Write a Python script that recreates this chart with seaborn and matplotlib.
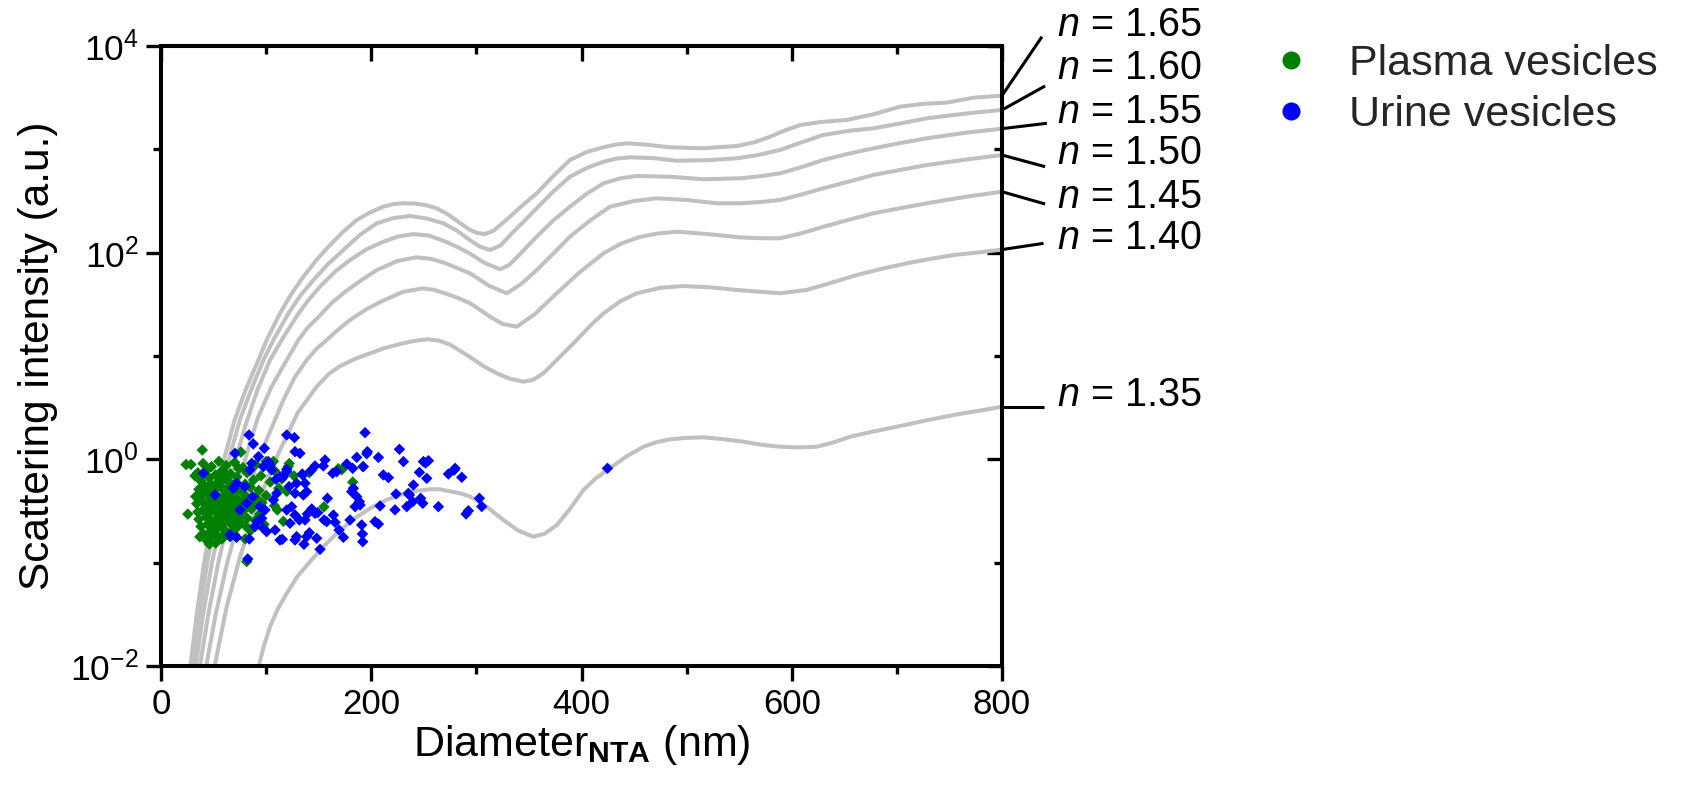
import numpy as np
import pandas as pd
import matplotlib
matplotlib.use("Agg")
import matplotlib.pyplot as plt
from matplotlib import font_manager as fm
import seaborn as sns
from matplotlib.lines import Line2D
from matplotlib.ticker import FixedLocator, NullFormatter

# ---------------- data ----------------
# Mie scattering curves: diameter (nm) and log10 scattering intensity (a.u.)
d_165 = [28, 34, 41, 50, 60, 70, 80, 92.6, 100.5, 113.2, 124, 135.4, 148, 160.8, 173, 186.2, 199, 211.5, 221,
         230.6, 242, 252, 262.3, 273, 284, 294, 301, 308, 316, 330, 343, 357.4, 373, 389, 405, 420.9, 432, 443,
         462, 484, 515, 547.7, 565, 579.4, 594, 608, 628, 652.4, 678, 703, 725, 747.6, 773, 800]
logI_165 = [-2, -1.5, -1.0, -0.48, 0.0, 0.38, 0.66, 0.961, 1.155, 1.413, 1.60, 1.767, 1.93, 2.074, 2.20, 2.316,
            2.39, 2.445, 2.47, 2.478, 2.475, 2.46, 2.429, 2.37, 2.29, 2.22, 2.19, 2.18, 2.21, 2.33, 2.45, 2.574,
            2.74, 2.897, 2.975, 3.02, 3.045, 3.058, 3.045, 3.02, 3.01, 3.032, 3.07, 3.122, 3.185, 3.235, 3.265,
            3.284, 3.34, 3.413, 3.44, 3.452, 3.50, 3.52]

d_160 = [30, 36.5, 44, 53.5, 64.5, 75, 86, 97.5, 106.9, 121.2, 133, 145, 159, 173.5, 189, 205.2, 221, 237, 253,
         268.6, 282, 294, 303, 313, 323, 335, 346, 357.4, 373, 389, 405, 420.9, 433, 446, 468, 490.7, 520, 547.7,
         568, 589, 610, 630, 655, 677.7, 703, 728.5, 752, 773, 800]
logI_160 = [-2, -1.5, -1.0, -0.5, 0.0, 0.38, 0.68, 0.961, 1.155, 1.413, 1.59, 1.735, 1.89, 2.026, 2.17, 2.284,
            2.335, 2.355, 2.33, 2.284, 2.21, 2.12, 2.06, 2.026, 2.07, 2.2, 2.31, 2.43, 2.59, 2.735, 2.82, 2.88,
            2.91, 2.923, 2.915, 2.89, 2.895, 2.913, 2.945, 2.994, 3.07, 3.139, 3.18, 3.203, 3.25, 3.30, 3.33,
            3.355, 3.381]

d_155 = [33, 40, 48.5, 59, 71, 81, 92, 103.7, 114.8, 130, 141, 152, 166, 180, 195, 210, 225, 240, 255, 270, 283,
         294, 308, 322.5, 331, 340, 357.4, 373, 389, 405, 421, 437, 452.6, 485, 515.7, 551, 570, 589, 610, 630,
         655, 677.7, 703, 728.5, 765, 800]
logI_155 = [-2, -1.5, -1.0, -0.5, 0.0, 0.35, 0.68, 0.961, 1.155, 1.40, 1.55, 1.68, 1.82, 1.93, 2.03, 2.10, 2.155,
            2.18, 2.165, 2.11, 2.05, 1.99, 1.90, 1.839, 1.88, 1.97, 2.155, 2.31, 2.445, 2.57, 2.671, 2.72, 2.742,
            2.735, 2.71, 2.72, 2.74, 2.768, 2.83, 2.897, 2.96, 3.01, 3.06, 3.107, 3.16, 3.20]

d_150 = [37, 45, 54.5, 66, 80, 92, 105, 119.6, 130.7, 140, 150, 162, 175, 190, 205, 225, 243, 257, 270, 282, 294,
         312, 329, 343, 357.4, 373, 389, 408, 427, 450, 471.6, 500, 528.7, 551, 570, 589, 610, 630, 655, 677.7,
         703, 728.5, 765, 800]
logI_150 = [-2, -1.5, -1.0, -0.5, 0.0, 0.4, 0.7, 0.961, 1.155, 1.28, 1.38, 1.51, 1.62, 1.73, 1.83, 1.92, 1.955,
            1.94, 1.9, 1.85, 1.80, 1.68, 1.607, 1.70, 1.832, 1.99, 2.155, 2.31, 2.445, 2.50, 2.526, 2.51, 2.478,
            2.478, 2.49, 2.51, 2.565, 2.623, 2.69, 2.752, 2.80, 2.848, 2.90, 2.945]

d_145 = [43, 52, 63, 76.5, 92.6, 105, 116.4, 127, 138.6, 148, 157.6, 168, 180, 195, 210, 230, 249, 260, 272, 283,
         294, 303, 313, 325, 338.4, 355, 373, 397, 421, 438, 455, 472, 490.7, 520, 551, 570, 589, 610, 630, 655,
         677.7, 703, 728.5, 765, 800]
logI_145 = [-2, -1.5, -1.0, -0.5, 0.0, 0.3, 0.574, 0.79, 0.961, 1.07, 1.155, 1.25, 1.35, 1.45, 1.53, 1.62, 1.655,
            1.64, 1.6, 1.56, 1.51, 1.45, 1.38, 1.31, 1.284, 1.40, 1.574, 1.80, 1.994, 2.09, 2.15, 2.185, 2.203,
            2.18, 2.148, 2.14, 2.139, 2.19, 2.251, 2.32, 2.381, 2.43, 2.478, 2.54, 2.59]

d_140 = [51, 62.5, 75.2, 91, 102, 113.2, 130, 148, 160, 170, 184, 198.9, 212, 225, 240, 253, 264, 275, 294, 307,
         320, 332, 344.7, 354, 363.7, 379.6, 395.5, 408, 421, 437, 452.6, 475, 497, 522, 547.7, 589, 614, 638,
         662, 686, 709.5, 732, 753.9, 780, 800]
logI_140 = [-2, -1.426, -0.942, -0.458, -0.17, 0.09, 0.45, 0.703, 0.83, 0.9, 0.97, 1.026, 1.075, 1.11, 1.145,
            1.161, 1.15, 1.11, 0.99, 0.90, 0.83, 0.78, 0.751, 0.77, 0.832, 0.993, 1.155, 1.29, 1.413, 1.53, 1.607,
            1.66, 1.677, 1.665, 1.639, 1.607, 1.639, 1.71, 1.784, 1.845, 1.897, 1.94, 1.977, 2.005, 2.03]

d_135 = [93, 98, 103.7, 111, 119.6, 130, 141.8, 154, 167.2, 183, 198.9, 215, 230.6, 243, 256, 265, 275, 285, 294,
         310, 325.7, 340, 354, 365, 376.5, 389, 401.8, 414, 427, 443, 459, 471, 484, 500, 516, 535, 554, 572,
         589, 606, 624, 640, 655.6, 678, 700, 727, 754, 778, 800]
logI_135 = [-2, -1.8, -1.62, -1.45, -1.297, -1.13, -0.99, -0.85, -0.716, -0.58, -0.474, -0.39, -0.336, -0.305,
            -0.29, -0.29, -0.31, -0.33, -0.36, -0.46, -0.587, -0.69, -0.749, -0.72, -0.636, -0.48, -0.297, -0.18,
            -0.087, 0.03, 0.122, 0.165, 0.193, 0.208, 0.213, 0.195, 0.171, 0.14, 0.122, 0.115, 0.122, 0.165,
            0.219, 0.27, 0.316, 0.375, 0.429, 0.47, 0.509]

n_labels = ["1.65", "1.60", "1.55", "1.50", "1.45", "1.40", "1.35"]

# Plasma vesicles (green): diameter (nm), log10 intensity
plasma_d = [40, 48, 55, 62, 70, 78, 90, 100,
            35, 44, 52, 58, 66, 74, 82, 95, 108,
            38, 46, 53, 60, 65, 72, 80, 88, 104, 115,
            36, 42, 50, 57, 63, 69, 76, 85, 93, 112,
            33, 40, 47, 52, 58, 62, 67, 73, 79, 90, 100,
            34, 39, 45, 50, 55, 60, 64, 70, 77, 84, 96, 108,
            35, 41, 46, 51, 56, 61, 66, 71, 78, 86, 94,
            36, 43, 48, 53, 58, 63, 68, 75, 82, 90,
            38, 44, 50, 55, 60, 66, 72, 80, 98,
            40, 47, 54, 62, 70, 85,
            44, 52, 58,
            45, 49, 53, 57, 61, 65, 68, 72, 74, 43, 47, 59, 64, 69, 76, 81, 51, 56, 62, 88,
            39.3, 23.8, 28.5, 32.3, 25.5, 37, 46, 81.5, 192, 172, 182.4, 155, 121, 119.6, 126.5, 110.7,
            80, 48, 76, 107, 122, 141, 168.7, 116.4, 65.6]
plasma_logI = [-0.04, -0.07, -0.02, -0.06, -0.03, -0.08, -0.05, -0.02,
               -0.13, -0.10, -0.15, -0.11, -0.14, -0.09, -0.13, -0.16, -0.11,
               -0.21, -0.18, -0.23, -0.19, -0.22, -0.17, -0.24, -0.20, -0.22, -0.19,
               -0.29, -0.26, -0.30, -0.27, -0.31, -0.25, -0.29, -0.27, -0.30, -0.28,
               -0.36, -0.33, -0.37, -0.34, -0.38, -0.33, -0.36, -0.39, -0.34, -0.37, -0.35,
               -0.43, -0.40, -0.44, -0.41, -0.45, -0.42, -0.40, -0.44, -0.41, -0.43, -0.42, -0.45,
               -0.51, -0.48, -0.52, -0.49, -0.53, -0.50, -0.47, -0.52, -0.50, -0.48, -0.53,
               -0.58, -0.56, -0.60, -0.57, -0.59, -0.55, -0.58, -0.61, -0.57, -0.59,
               -0.65, -0.63, -0.66, -0.64, -0.68, -0.62, -0.66, -0.64, -0.63,
               -0.72, -0.70, -0.74, -0.71, -0.73, -0.69,
               -0.79, -0.81, -0.77,
               -0.32, -0.47, -0.39, -0.50, -0.36, -0.55, -0.43, -0.30, -0.56, -0.53, -0.24, -0.62, -0.27, -0.68,
               -0.46, -0.38, -0.68, -0.20, -0.15, -0.44,
               0.09, -0.05, -0.05, -0.16, -0.53, -0.75, -0.82, -0.99, -0.07, -0.10, -0.22, -0.46, -0.07, -0.31,
               -0.16, -0.49, -0.77, -0.74, 0.07, -0.02, -0.04, -0.13, -0.09, -0.60, -0.75]

# Urine vesicles (blue): diameter (nm), log10 intensity
urine_d = [83.7, 87.8, 119.6, 126.9, 194.1, 98.3, 127.5, 132.2, 196.3, 226.8, 206.8, 186.2, 156, 176.7, 192.5,
           182.4, 167.2, 163.3, 154.4, 146.5, 142.7, 134.4, 119.6, 113.2, 230.6, 249.6, 254.4, 245.8, 252.8,
           211.5, 216.3, 273.4, 279.8, 286.1, 240.1, 236.3, 223.6, 233.8, 239.5, 249.0, 263.9, 290.2, 208.4,
           183, 181.4, 186.2, 188.7, 189.4, 184.6, 179.8, 190.9, 191.6, 191.9, 173.5, 203.6, 206.8, 158.3, 164,
           155.1, 157.6, 165.6, 169.4, 151.3, 148.1, 141.1, 138.6, 136, 129, 127.5, 115.4, 113.2, 122.7, 131.6,
           137, 146.5, 149.1, 139.2, 127.5, 119.6, 124.3, 121.8, 129, 127.5, 135.4, 137, 108.5, 100.5, 84, 71.9,
           66.3, 82.5, 105.3, 103.7, 92.6, 84.7, 79.9, 81.5, 75.2, 94.2, 91.6, 89.4, 68.8, 72, 70.4, 40.3, 51.4,
           65.6, 302.9, 305.1, 292.4, 278.8, 251.7, 195.7, 235.3, 222.6, 247, 424.7,
           102.1, 97.4, 86.3, 87.2, 98.9, 95.8, 106.9, 110.1, 119.6, 116.4, 143.4, 138.6, 134.8, 109.4, 97.4]
urine_logI = [0.236, 0.149, 0.236, 0.210, 0.258, 0.107, 0.074, 0.058, 0.074, 0.097, 0.019, 0.019, -0.006, -0.045,
              -0.071, -0.087, -0.119, -0.135, -0.064, -0.064, -0.109, -0.142, -0.097, -0.168, -0.022, -0.022,
              -0.013, -0.126, -0.184, -0.151, -0.177, -0.142, -0.087, -0.174, -0.248, -0.345, -0.335, -0.458,
              -0.41, -0.426, -0.458, -0.529, -0.451, -0.28, -0.313, -0.361, -0.41, -0.442, -0.458, -0.587,
              -0.635, -0.722, -0.797, -0.755, -0.603, -0.626, -0.377, -0.539, -0.587, -0.603, -0.61, -0.684,
              -0.871, -0.764, -0.71, -0.748, -0.822, -0.748, -0.781, -0.774, -0.781, -0.619, -0.587, -0.587,
              -0.523, -0.516, -0.529, -0.539, -0.49, -0.458, -0.264, -0.232, -0.329, -0.345, -0.232, -0.684,
              -0.7, -0.771, -0.755, -0.739, -0.964, -0.103, -0.055, 0.026, -0.103, -0.264, -0.426, -0.49,
              -0.458, -0.603, -0.651, -0.28, -0.232, 0.058, -0.135, -0.345, -0.732, -0.377, -0.457, -0.498,
              -0.105, -0.035, 0.054, -0.329, -0.489, -0.377, -0.087,
              -0.022, -0.071, -0.039, -0.361, -0.49, -0.571, -0.393, -0.329, -0.119, -0.168, -0.48, -0.313,
              -0.152, -0.193, -0.668]

x_ticks = [0, 200, 400, 600, 800]
x_minor = [100, 300, 500, 700]
y_ticks = [1e-2, 1e0, 1e2, 1e4]
y_minor = [1e-1, 1e1, 1e3]
y_ticklabels = [r"$10^{-2}$", r"$10^{0}$", r"$10^{2}$", r"$10^{4}$"]

# ---------------- build frames ----------------
curve_sets = [(d_165, logI_165), (d_160, logI_160), (d_155, logI_155), (d_150, logI_150),
              (d_145, logI_145), (d_140, logI_140), (d_135, logI_135)]
curve_df = pd.concat(
    [pd.DataFrame({"d": d, "I": np.power(10.0, li), "n": lab}) for (d, li), lab in zip(curve_sets, n_labels)],
    ignore_index=True)

ves_df = pd.concat([
    pd.DataFrame({"d": plasma_d, "I": np.power(10.0, plasma_logI), "type": "Plasma vesicles"}),
    pd.DataFrame({"d": urine_d, "I": np.power(10.0, urine_logI), "type": "Urine vesicles"}),
], ignore_index=True)

# ---------------- style ----------------
sns.set_theme(style="white")
plt.rcParams["font.family"] = ["Liberation Sans", "DejaVu Sans"]
plt.rcParams["mathtext.fontset"] = "custom"
plt.rcParams["mathtext.rm"] = "Liberation Sans"
plt.rcParams["mathtext.it"] = "Liberation Sans:italic"
plt.rcParams["mathtext.bf"] = "Liberation Sans:bold"
plt.rcParams["axes.edgecolor"] = "black"
plt.rcParams["xtick.labelsize"] = 25
plt.rcParams["ytick.labelsize"] = 25.5

installed = {f.name for f in fm.fontManager.ttflist}
narrow = "Liberation Sans Narrow" if "Liberation Sans Narrow" in installed else "Liberation Sans"

W, H = 1692, 806
fig = plt.figure(figsize=(W / 100, H / 100), dpi=100)
ax = fig.add_axes([161 / W, 1 - 666 / H, (1002 - 161) / W, (666 - 46) / H])

sns.lineplot(data=curve_df, x="d", y="I", hue="n", estimator=None, sort=False,
             palette={lab: "#c0c0c0" for lab in n_labels}, linewidth=2.9, legend=False, ax=ax, zorder=1)
sns.scatterplot(data=ves_df, x="d", y="I", hue="type",
                palette={"Plasma vesicles": "#008000", "Urine vesicles": "#0000ff"},
                marker="D", s=34, linewidth=0, legend=False, ax=ax, zorder=3)

ax.set_yscale("log")
ax.set_xlim(0, 800)
ax.set_ylim(1e-2, 1e4)

for sp in ax.spines.values():
    sp.set_linewidth(2.9)
    sp.set_color("black")

ax.tick_params(axis="both", which="major", direction="out", length=11, width=2.4, color="black",
               pad=5, bottom=True, left=True, top=False, right=False, labelcolor="black")
ax.tick_params(axis="both", which="minor", direction="out", length=6, width=2.4, color="black",
               bottom=True, left=True, top=False, right=False)

ax.xaxis.set_major_locator(FixedLocator(x_ticks))
ax.xaxis.set_minor_locator(FixedLocator(x_minor))
ax.set_xticklabels([str(v) for v in x_ticks], fontsize=25, family=[narrow, "Liberation Sans"])
ax.yaxis.set_major_locator(FixedLocator(y_ticks))
ax.yaxis.set_minor_locator(FixedLocator(y_minor))
ax.yaxis.set_minor_formatter(NullFormatter())
ax.set_yticklabels(y_ticklabels, fontsize=25.5)

# inward ticks on top and right
secx = ax.secondary_xaxis("top")
secx.xaxis.set_major_locator(FixedLocator(x_ticks))
secx.xaxis.set_minor_locator(FixedLocator(x_minor))
secx.tick_params(which="major", direction="in", length=11, width=2.4, labeltop=False, color="black")
secx.tick_params(which="minor", direction="in", length=6, width=2.4, color="black")
secx.spines["top"].set_linewidth(2.9)

secy = ax.secondary_yaxis("right")
secy.yaxis.set_major_locator(FixedLocator(y_ticks))
secy.yaxis.set_minor_locator(FixedLocator(y_minor))
secy.yaxis.set_minor_formatter(NullFormatter())
secy.tick_params(which="major", direction="in", length=11, width=2.4, labelright=False, color="black")
secy.tick_params(which="minor", direction="in", length=6, width=2.4, color="black")
secy.spines["right"].set_linewidth(2.9)

ax.set_xlabel(r"Diameter$_{\mathbf{NTA}}$ (nm)", fontsize=31, labelpad=1, color="black")
ax.set_ylabel("Scattering intensity (a.u.)", fontsize=30.5, labelpad=9, color="black")

# label connectors and refractive-index labels
conn_end = [(838, 4.09), (841, 3.613), (842.7, 3.252), (841, 2.832), (841, 2.471), (839.5, 2.09), (839.5, 0.509)]
text_y = [4.203, 3.784, 3.364, 2.962, 2.542, 2.139, 0.622]
for (d, li), lab, (xe, ye), ty in zip(curve_sets, n_labels, conn_end, text_y):
    ax.plot([d[-1], xe], [10 ** li[-1], 10 ** ye], color="black", lw=2.2, clip_on=False,
            solid_capstyle="butt", zorder=5)
    ax.text(852.5, 10 ** ty, r"$\it{n}$ = " + lab, fontsize=28.5, va="center", ha="left", color="black")

handles = [Line2D([], [], ls="", marker="o", markersize=13, color="#008000", markeredgewidth=0),
           Line2D([], [], ls="", marker="o", markersize=13, color="#0000ff", markeredgewidth=0)]
fig.legend(handles, ["Plasma vesicles", "Urine vesicles"], loc="upper left",
           bbox_to_anchor=(1269 / W, 1 - 44 / H), frameon=False, fontsize=31,
           handlelength=1.0, handletextpad=0.85, labelspacing=0.25, borderpad=0, borderaxespad=0)

fig.savefig("out.png", dpi=100, facecolor="white")
